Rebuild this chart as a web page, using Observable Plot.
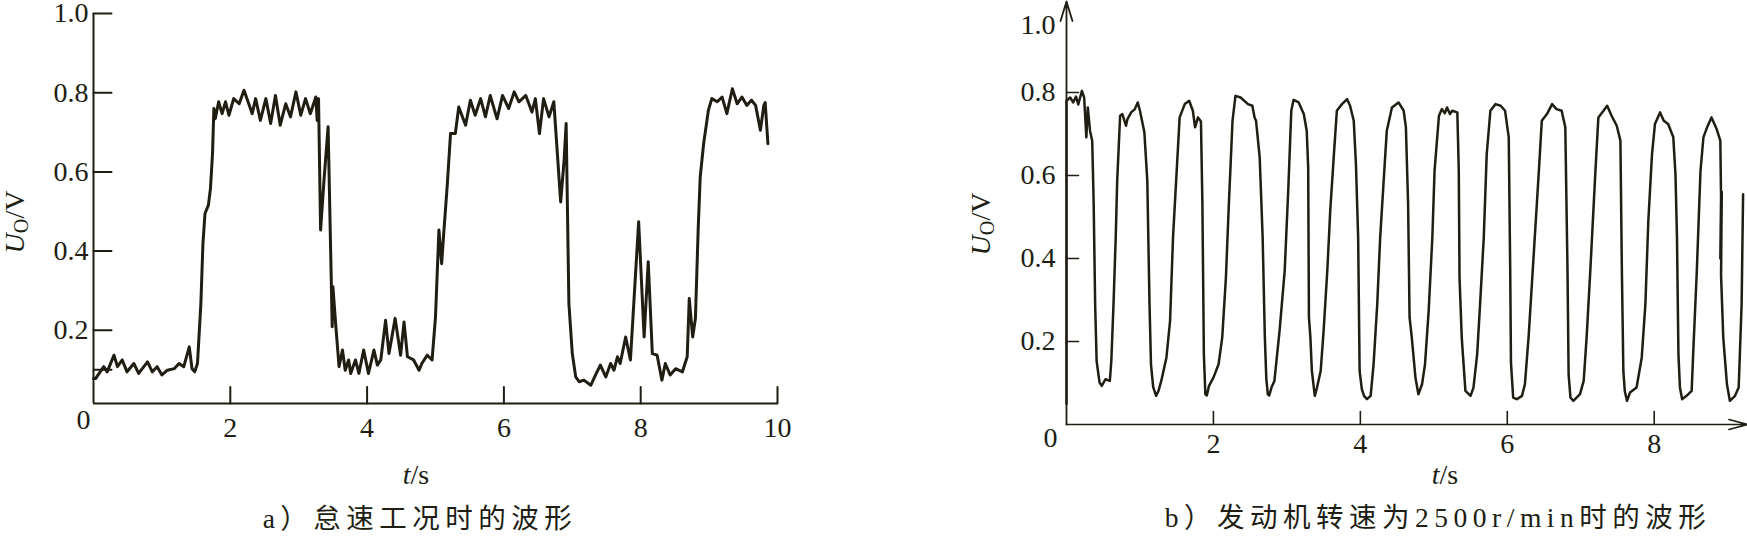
<!DOCTYPE html>
<html>
<head>
<meta charset="utf-8">
<script src="https://cdn.jsdelivr.net/npm/d3@7"></script>
<script src="https://cdn.jsdelivr.net/npm/@observablehq/plot@0.6"></script>
<style>
  html, body { margin: 0; padding: 0; background: #ffffff; }
  body { width: 1747px; height: 545px; position: relative; overflow: hidden; color: #201d12; }
  .panel { position: absolute; top: 0; }
  .lbl { position: absolute; font-family: "Liberation Serif", "Noto Sans CJK SC", serif; font-size: 28px; white-space: nowrap; color: #201d12; line-height: 1; }
  .ylab { transform: translate(-50%, -50%) rotate(-90deg); }
  .xlab { transform: translate(-50%, -50%); }
  .cap { transform: translate(-50%, -50%); letter-spacing: 5.5px; font-size: 27.5px; }
  sub { font-size: 0.72em; vertical-align: -0.22em; line-height: 0; font-style: normal; }
</style>
</head>
<body>
<div id="pa" class="panel" style="left:0px;width:870px;"></div>
<div id="pb" class="panel" style="left:960px;width:787px;"></div>

<div class="lbl ylab" style="left:15px;top:222px;"><i>U</i><sub>O</sub>/V</div>
<div class="lbl ylab" style="left:981px;top:224px;"><i>U</i><sub>O</sub>/V</div>
<div class="lbl xlab" style="left:416px;top:475px;"><i>t</i>/s</div>
<div class="lbl xlab" style="left:1445px;top:475px;"><i>t</i>/s</div>
<div class="lbl cap" style="left:420px;top:519px;">a）怠速工况时的波形</div>
<div class="lbl cap" style="left:1438px;top:518px;">b）发动机转速为2500r/min时的波形</div>

<script>
// ---------- data: chart a (idle) ----------
const ticksAx = [2, 4, 6, 8, 10];
const ticksAy = [0.2, 0.4, 0.6, 0.8, 1.0];
const minorAy = [0.1];
const domainAx = [0, 10];
const domainAy = [0.015, 1.0];
const tA = [0.00,0.03,0.15,0.20,0.30,0.35,0.42,0.49,0.59,0.66,0.79,0.86,0.93,1.00,1.08,1.18,1.25,1.32,1.40,1.44,1.48,1.52,1.57,1.60,1.63,1.68,1.71,1.74,1.76,1.78,1.83,1.88,1.93,1.98,2.05,2.13,2.20,2.27,2.32,2.37,2.44,2.52,2.59,2.66,2.73,2.81,2.88,2.96,3.03,3.10,3.17,3.25,3.27,3.29,
  3.32,3.37,3.43,3.49,3.50,3.54,3.59,3.64,3.68,3.73,3.76,3.83,3.88,3.95,4.02,4.10,4.15,4.20,4.27,4.32,4.41,4.49,4.54,4.59,4.68,4.76,4.80,4.88,4.95,5.00,5.05,5.09,5.12,5.17,5.22,5.29,5.34,5.44,5.51,5.58,5.66,5.73,5.80,5.90,5.98,6.07,6.15,6.22,6.32,6.41,6.46,6.52,6.58,6.66,6.73,
  6.83,6.88,6.91,6.95,7.00,7.05,7.10,7.17,7.27,7.34,7.41,7.49,7.56,7.61,7.66,7.70,7.78,7.85,7.97,8.05,8.11,8.17,8.24,8.31,8.36,8.43,8.51,8.61,8.68,8.71,8.76,8.80,8.84,8.87,8.92,8.99,9.04,9.12,9.19,9.26,9.34,9.41,9.48,9.55,9.62,9.68,9.75,9.80,9.82,9.86];
const vA = [0.078,0.078,0.108,0.095,0.137,0.108,0.125,0.095,0.116,0.091,0.120,0.095,0.108,0.087,0.099,0.103,0.116,0.108,0.158,0.103,0.095,0.116,0.268,0.419,0.495,0.516,0.558,0.646,0.760,0.734,0.777,0.747,0.777,0.743,0.785,0.772,0.806,0.772,0.747,0.785,0.730,0.785,0.722,0.793,0.718,0.772,0.739,0.802,0.743,0.785,0.747,0.789,0.730,0.785,
  0.453,0.579,0.714,0.209,0.310,0.217,0.108,0.150,0.099,0.125,0.091,0.125,0.091,0.150,0.091,0.150,0.112,0.125,0.225,0.141,0.230,0.137,0.221,0.133,0.125,0.099,0.116,0.137,0.125,0.234,0.453,0.368,0.444,0.562,0.697,0.697,0.764,0.718,0.781,0.743,0.785,0.739,0.793,0.734,0.793,0.760,0.802,0.777,0.793,0.751,0.785,0.697,0.785,0.739,0.777,
  0.524,0.629,0.722,0.268,0.141,0.082,0.070,0.074,0.061,0.087,0.112,0.082,0.116,0.099,0.133,0.116,0.183,0.125,0.474,0.183,0.373,0.141,0.137,0.074,0.116,0.087,0.103,0.095,0.133,0.280,0.183,0.230,0.453,0.587,0.671,0.756,0.785,0.777,0.789,0.747,0.810,0.772,0.789,0.768,0.781,0.768,0.705,0.768,0.775,0.671];

// ---------- data: chart b (2500 r/min) ----------
const ticksBx = [2, 4, 6, 8];
const ticksBy = [0.2, 0.4, 0.6, 0.8];
const topLabelB = [1.0];
const domainBx = [0, 9.27];
const domainBy = [0, 1.0];
const tB = [0.00,0.00,0.05,0.09,0.13,0.16,0.21,0.24,0.27,0.29,0.32,0.35,0.37,0.39,0.41,0.45,0.48,0.53,0.59,0.61,0.64,0.67,0.69,0.73,0.76,0.81,0.83,0.88,0.93,0.97,1.00,1.06,1.10,1.13,1.15,1.18,1.22,1.25,1.29,1.36,1.41,1.45,1.50,1.54,1.61,1.67,1.72,1.75,1.79,1.83,1.85,1.87,1.89,1.91,1.94,2.00,2.07,2.12,2.17,2.21,2.26,2.30,2.37,2.47,2.53,2.56,2.58,2.63,2.67,2.70,2.72,2.74,2.76,2.79,2.83,2.90,2.97,3.02,3.06,
  3.09,3.16,3.23,3.27,3.29,3.30,3.32,3.34,3.38,3.41,3.46,3.50,3.55,3.59,3.64,3.68,3.75,3.82,3.86,3.91,3.94,3.97,3.99,4.02,4.05,4.09,4.14,4.18,4.23,4.27,4.32,4.36,4.43,4.52,4.59,4.62,4.65,4.67,4.70,4.75,4.79,4.84,4.88,4.93,4.98,5.01,5.07,5.11,5.15,5.18,5.22,5.25,5.32,5.34,5.35,5.38,5.43,5.50,5.54,5.59,5.63,5.68,5.72,5.77,5.84,5.91,5.97,6.02,6.04,
  6.05,6.08,6.13,6.20,6.24,6.29,6.36,6.43,6.47,6.54,6.61,6.67,6.74,6.79,6.82,6.835,6.86,6.90,6.99,7.04,7.08,7.13,7.20,7.24,7.31,7.36,7.42,7.49,7.54,7.56,7.58,7.60,7.63,7.67,7.76,7.83,7.88,7.92,7.97,8.01,8.08,8.13,8.19,8.26,8.29,8.31,8.33,8.35,8.38,8.44,8.51,8.53,8.58,8.63,8.67,8.72,8.78,8.85,8.90,8.91,8.90,8.92,8.91,8.94,8.99,9.03,9.10,9.15,9.19,9.21];
const vB = [0.05,0.78,0.788,0.776,0.79,0.771,0.804,0.788,0.692,0.764,0.708,0.683,0.531,0.29,0.153,0.101,0.093,0.109,0.105,0.153,0.29,0.451,0.587,0.744,0.748,0.72,0.736,0.752,0.76,0.776,0.756,0.704,0.587,0.29,0.145,0.09,0.069,0.08,0.105,0.161,0.25,0.451,0.611,0.74,0.772,0.78,0.756,0.716,0.74,0.73,0.531,0.169,0.073,0.07,0.093,0.113,0.145,0.21,0.354,0.531,0.732,0.792,0.788,0.772,0.768,0.74,0.732,0.643,0.451,0.21,0.11,0.073,0.07,0.089,0.105,0.225,0.37,0.571,0.756,
  0.782,0.776,0.748,0.708,0.619,0.258,0.21,0.129,0.069,0.089,0.129,0.226,0.37,0.515,0.651,0.756,0.772,0.784,0.768,0.732,0.627,0.451,0.129,0.085,0.069,0.061,0.069,0.145,0.29,0.451,0.595,0.708,0.764,0.776,0.756,0.716,0.531,0.258,0.21,0.113,0.073,0.097,0.145,0.274,0.451,0.611,0.744,0.76,0.75,0.764,0.748,0.756,0.752,0.611,0.354,0.21,0.081,0.069,0.089,0.169,0.29,0.451,0.651,0.756,0.772,0.768,0.756,0.692,0.37,
  0.15,0.065,0.061,0.069,0.097,0.21,0.41,0.611,0.732,0.748,0.772,0.76,0.756,0.716,0.37,0.12,0.065,0.057,0.073,0.105,0.21,0.37,0.611,0.74,0.756,0.768,0.744,0.72,0.684,0.37,0.129,0.08,0.057,0.077,0.089,0.161,0.29,0.491,0.651,0.724,0.752,0.732,0.724,0.692,0.60,0.451,0.169,0.09,0.061,0.069,0.081,0.169,0.37,0.611,0.692,0.716,0.74,0.712,0.684,0.547,0.40,0.56,0.36,0.21,0.097,0.057,0.069,0.089,0.29,0.555];

// ---------- drawing ----------
const ink = "#201d12";
const serif = '"Liberation Serif", "Times New Roman", serif';
const fmt1 = d3.format(".1f");
const tickShape = { draw(ctx, l) { ctx.moveTo(0, 0); ctx.lineTo(0, -l); } };

const dataA = tA.map((t, i) => ({ t, v: vA[i] }));
const dataB = tB.map((t, i) => ({ t, v: vB[i] }));
const baseA = domainAy[0];
const baseB = domainBy[0];
const textStyle = { fontSize: 28, fontFamily: serif, letterSpacing: "1.5px" };

const plotA = Plot.plot({
  width: 870, height: 443,
  marginLeft: 93, marginRight: 93, marginTop: 13, marginBottom: 40,
  x: { domain: domainAx },
  y: { domain: domainAy },
  style: { fontSize: "28px", fontFamily: serif, color: ink, background: "transparent", overflow: "visible" },
  marks: [
    Plot.ruleX([domainAx[0]], { stroke: ink, strokeWidth: 2 }),
    Plot.ruleY([baseA], { stroke: ink, strokeWidth: 2 }),
    Plot.vector([...ticksAy, ...minorAy], { x: domainAx[0], y: d => d, rotate: 90, length: 18, anchor: "start", shape: tickShape, stroke: ink, strokeWidth: 2 }),
    Plot.vector(ticksAx, { x: d => d, y: baseA, length: 16.5, anchor: "start", shape: tickShape, stroke: ink, strokeWidth: 2 }),
    Plot.axisY({ ticks: ticksAy, tickSize: 0, tickPadding: 5, tickFormat: fmt1, label: null, ...textStyle }),
    Plot.axisX({ ticks: ticksAx, tickSize: 0, tickPadding: 14, label: null, ...textStyle }),
    Plot.text([0], { x: d => d, y: baseA, text: d => String(d), dx: -10, dy: 17, ...textStyle }),
    Plot.line(dataA, { x: "t", y: "v", stroke: ink, strokeWidth: 3, strokeLinejoin: "round", strokeLinecap: "round" })
  ]
});
document.getElementById("pa").appendChild(plotA);

const plotB = Plot.plot({
  width: 787, height: 460,
  marginLeft: 106, marginRight: 0, marginTop: 9, marginBottom: 36,
  x: { domain: domainBx },
  y: { domain: domainBy },
  style: { fontSize: "28px", fontFamily: serif, color: ink, background: "transparent", overflow: "visible" },
  marks: [
    Plot.arrow([0], { x1: domainBx[0], y1: baseB, x2: domainBx[0], y2: domainBy[1], insetEnd: -8, headLength: 17, headAngle: 34, stroke: ink, strokeWidth: 1.8 }),
    Plot.arrow([0], { x1: domainBx[0], y1: baseB, x2: domainBx[1], y2: baseB, headLength: 18, headAngle: 30, stroke: ink, strokeWidth: 1.6 }),
    Plot.vector(ticksBy, { x: domainBx[0], y: d => d, rotate: 90, length: 12, anchor: "start", shape: tickShape, stroke: ink, strokeWidth: 1.6 }),
    Plot.vector(ticksBx, { x: d => d, y: baseB, length: 13, anchor: "start", shape: tickShape, stroke: ink, strokeWidth: 1.6 }),
    Plot.axisY({ ticks: ticksBy, tickSize: 0, tickPadding: 11, tickFormat: fmt1, label: null, ...textStyle }),
    Plot.axisX({ ticks: ticksBx, tickSize: 0, tickPadding: 9, label: null, ...textStyle }),
    Plot.text(topLabelB, { x: domainBx[0], y: d => d, text: d => fmt1(d), textAnchor: "end", dx: -11, dy: 16, ...textStyle }),
    Plot.text([0], { x: d => d, y: baseB, text: d => String(d), dx: -16, dy: 14, ...textStyle }),
    Plot.line(dataB, { x: "t", y: "v", stroke: ink, strokeWidth: 2.5, strokeLinejoin: "round", strokeLinecap: "round" })
  ]
});
document.getElementById("pb").appendChild(plotB);
</script>
</body>
</html>
